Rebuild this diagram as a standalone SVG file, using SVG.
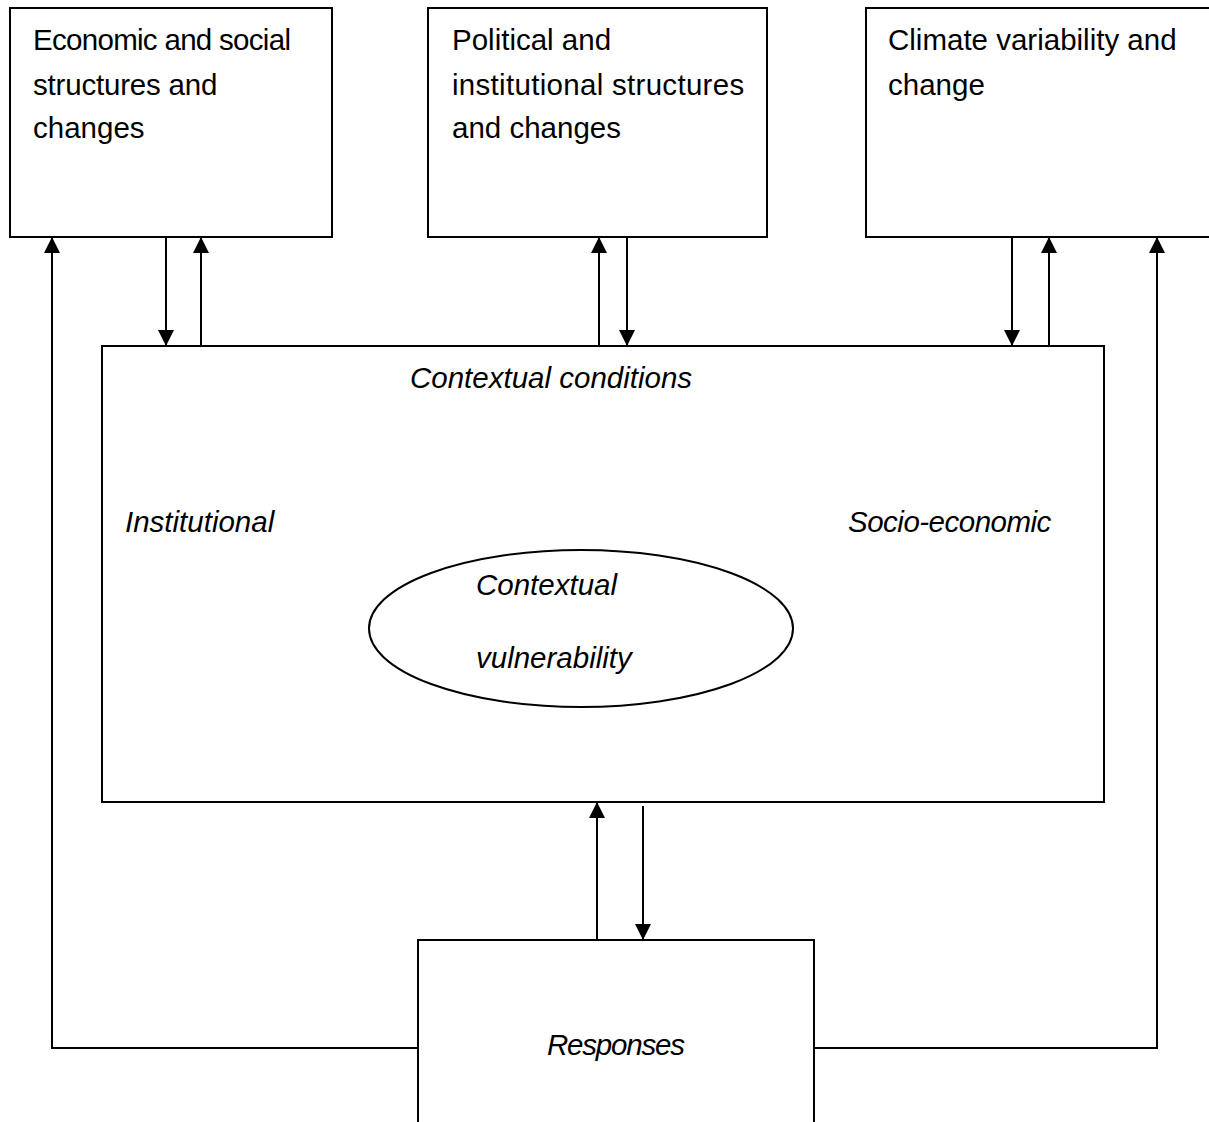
<svg xmlns="http://www.w3.org/2000/svg" width="1209" height="1122" viewBox="0 0 1209 1122">
<style>
.box{fill:#fff;stroke:#000;stroke-width:2}
.t{font-family:"Liberation Sans",Arial,sans-serif;font-size:29.5px;fill:#000}
.i{font-style:italic}
.c{fill:none;stroke:#000;stroke-width:2}
</style>
<defs>
<marker id="ah" markerUnits="userSpaceOnUse" markerWidth="16" markerHeight="16" refX="16" refY="8" orient="auto">
<path d="M0,0 L16,8 L0,16 z" fill="#000"/>
</marker>
</defs>
<rect width="1209" height="1122" fill="#fff"/>
<g id="econ">
<rect class="box" x="10" y="8" width="322" height="229"/>
<text class="t" x="33" y="50" letter-spacing="-0.7">Economic and social</text>
<text class="t" x="33" y="95" letter-spacing="-0.2">structures and</text>
<text class="t" x="33" y="138">changes</text>
</g>
<g id="political">
<rect class="box" x="428" y="8" width="339" height="229"/>
<text class="t" x="452" y="50">Political and</text>
<text class="t" x="452" y="95" letter-spacing="0.3">institutional structures</text>
<text class="t" x="452" y="138">and changes</text>
</g>
<g id="climate">
<rect class="box" x="866" y="8" width="360" height="229"/>
<text class="t" x="888" y="50">Climate variability and</text>
<text class="t" x="888" y="95">change</text>
</g>
<g id="context">
<rect class="box" x="102" y="346" width="1002" height="456"/>
<text class="t i" x="410" y="388">Contextual conditions</text>
<text class="t i" x="125" y="532">Institutional</text>
<text class="t i" x="848" y="532" letter-spacing="-0.5">Socio-economic</text>
</g>
<g id="vulnerability">
<ellipse class="box" cx="581" cy="628.5" rx="212" ry="78.5"/>
<text class="t i" x="476" y="595">Contextual</text>
<text class="t i" x="476" y="668">vulnerability</text>
</g>
<g id="responses">
<rect class="box" x="418" y="940" width="396" height="200"/>
<text class="t i" x="547" y="1055" letter-spacing="-1.2">Responses</text>
</g>
<g id="connectors">
<line class="c" x1="166" y1="237" x2="166" y2="346" marker-end="url(#ah)"/>
<line class="c" x1="201" y1="346" x2="201" y2="237" marker-end="url(#ah)"/>
<path class="c" d="M418,1048 H52 V237" marker-end="url(#ah)"/>
<line class="c" x1="599" y1="346" x2="599" y2="237" marker-end="url(#ah)"/>
<line class="c" x1="627" y1="237" x2="627" y2="346" marker-end="url(#ah)"/>
<line class="c" x1="1012" y1="237" x2="1012" y2="346" marker-end="url(#ah)"/>
<line class="c" x1="1049" y1="346" x2="1049" y2="237" marker-end="url(#ah)"/>
<path class="c" d="M814,1048 H1157 V237" marker-end="url(#ah)"/>
<line class="c" x1="597" y1="940" x2="597" y2="802" marker-end="url(#ah)"/>
<line class="c" x1="643" y1="806" x2="643" y2="940" marker-end="url(#ah)"/>
</g>
</svg>
